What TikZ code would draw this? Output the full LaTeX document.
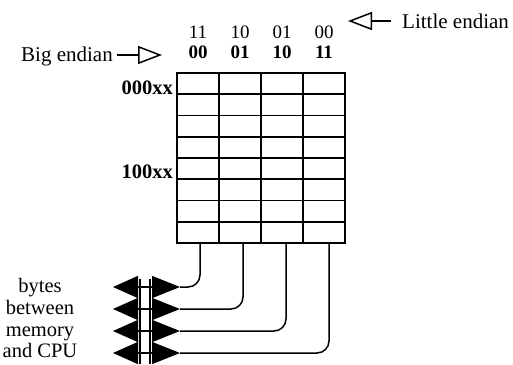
\documentclass[tikz,border=0pt]{standalone}
\usepackage{fontspec}
\setmainfont{Liberation Serif}
\usetikzlibrary{arrows.meta}

\begin{document}
\begin{tikzpicture}[
    x=1pt, y=-1pt,
    lbl/.style={inner sep=0pt, font=\fontsize{21}{22}\selectfont},
    rowlbl/.style={lbl, font=\fontsize{20.5}{22}\selectfont\bfseries, anchor=base east},
    digit/.style={inner sep=0pt, font=\fontsize{19}{21}\selectfont, anchor=base},
    bdigit/.style={digit, font=\fontsize{19}{21}\selectfont\bfseries},
    gridline/.style={line width=1.8pt},
    wire/.style={line width=1.5pt, rounded corners=12pt},
    endarr/.style={-{Triangle[open, length=24pt, width=18pt]}, line width=1.5pt},
    busarr/.style={{Triangle[length=25pt, width=22pt]}-{Triangle[length=28pt, width=22pt]}, line width=1.5pt},
]
\useasboundingbox (0,0) rectangle (513,364);

% Memory array
\draw[gridline] (177,73) rectangle (345,243);
\foreach \c in {219,261,303} \draw[gridline] (\c,73) -- (\c,243);
\foreach \r in {1,...,7} \draw[gridline] (177,{73+21.25*\r}) -- (345,{73+21.25*\r});

% Byte addresses
\foreach \t/\b [count=\i] in {11/00,10/01,01/10,00/11} {
  \node[digit] (le\i) at ({156+42*\i},38) {\t};
  \node[bdigit] (be\i) at ({156+42*\i},58) {\b};
}

% Endian labels
\node[lbl, anchor=west] (little) at (402,21) {Little endian};
\coordinate (littletail) at (391,21);
\coordinate (littletip) at (348,21);
\draw[endarr] (littletail) -- (littletip);

\node[lbl, anchor=base east] (big) at (113,61) {Big endian};
\coordinate (bigtail) at (117,55);
\coordinate (bigtip) at (162,55);
\draw[endarr] (bigtail) -- (bigtip);

% Word addresses
\node[rowlbl] (row0) at (173,94) {000xx};
\node[rowlbl] (row4) at (173,178) {100xx};

% Bus ladder
\coordinate (lad1t) at (140,279);
\coordinate (lad1b) at (140,364);
\coordinate (lad2t) at (150,279);
\coordinate (lad2b) at (150,364);
\draw[line width=1.5pt] (lad1t) -- (lad1b);
\draw[line width=1.5pt] (lad2t) -- (lad2b);

% Byte lanes
\foreach \y [count=\i] in {287,309,331,353} {
  \coordinate (cpu\i) at (113,\y);
  \coordinate (bus\i) at (180,\y);
  \coordinate (col\i) at ({157+43*\i},243);
  \draw[busarr] (cpu\i) -- (bus\i);
  \draw[wire] (col\i) |- (bus\i);
}

\node[lbl, align=center, anchor=north, font=\fontsize{20.5}{21.8}\selectfont] (bytes) at (40,278) {bytes\\between\\memory\\and CPU};

\end{tikzpicture}
\end{document}
